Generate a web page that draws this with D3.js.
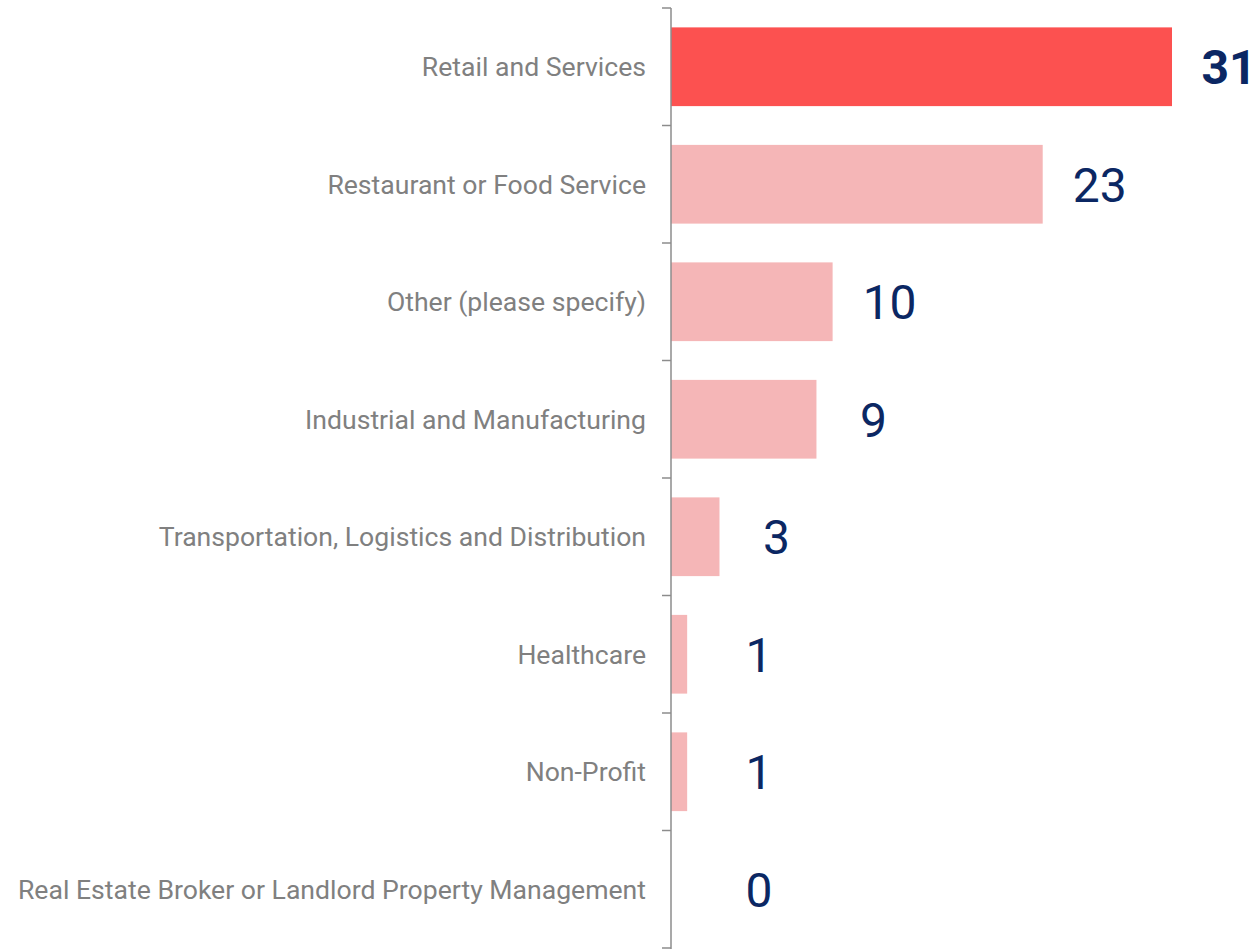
<!DOCTYPE html>
<html>
<head>
<meta charset="utf-8">
<script src="https://cdn.jsdelivr.net/npm/d3@7"></script>
<style>
  html, body { margin:0; padding:0; background:#fff; }
  svg { display:block; font-family: Roboto, "Noto Sans", sans-serif; }
  .cat { fill:#808080; font-size:26.6px; }
  .val { fill:#0b2763; font-size:48px; }
  .val.top { font-weight:700; }
  .axis-line, .tick-line { stroke:#8c8c8c; stroke-width:1.5; }
</style>
</head>
<body>
<div id="chart"></div>
<script>
/* ---- data ---- */
const CATEGORIES = [
  "Retail and Services",
  "Restaurant or Food Service",
  "Other (please specify)",
  "Industrial and Manufacturing",
  "Transportation, Logistics and Distribution",
  "Healthcare",
  "Non-Profit",
  "Real Estate Broker or Landlord Property Management"
];
const VALUES = [31, 23, 10, 9, 3, 1, 1, 0];
const HIGHLIGHT = "Retail and Services";

const W = 1258, H = 949;
const AXIS_X = 671, TOP = 8, BOTTOM = 948;

const rows = CATEGORIES.map((c, i) => ({ cat: c, v: VALUES[i] }));

const svg = d3.select("#chart").append("svg")
  .attr("width", W).attr("height", H);

const x = d3.scaleLinear().domain([0, 31]).range([AXIS_X, 1172]);
const y = d3.scaleBand().domain(CATEGORIES).range([TOP, BOTTOM])
  .paddingInner(0.33).paddingOuter(0.165);

// bars
svg.selectAll("rect.bar").data(rows).enter().append("rect")
  .attr("class", "bar")
  .attr("x", x(0))
  .attr("y", d => y(d.cat))
  .attr("width", d => x(d.v) - x(0))
  .attr("height", y.bandwidth())
  .attr("fill", d => d.cat === HIGHLIGHT ? "#fc5150" : "#f5b6b7");

// axis: vertical line + ticks on band boundaries
const step = y.step();
const bounds = d3.range(CATEGORIES.length + 1).map(i => TOP + i * step);
svg.append("line").attr("class", "axis-line")
  .attr("x1", AXIS_X).attr("x2", AXIS_X)
  .attr("y1", TOP).attr("y2", H);
svg.selectAll("line.tick-line").data(bounds).enter().append("line")
  .attr("class", "tick-line")
  .attr("x1", AXIS_X - 9).attr("x2", AXIS_X)
  .attr("y1", d => d).attr("y2", d => d);

// category labels
svg.selectAll("text.cat").data(rows).enter().append("text")
  .attr("class", "cat")
  .attr("x", AXIS_X - 25)
  .attr("y", d => y(d.cat) + y.bandwidth() / 2)
  .attr("dy", "0.35em")
  .attr("text-anchor", "end")
  .text(d => d.cat);

// value labels
svg.selectAll("text.val").data(rows).enter().append("text")
  .attr("class", d => d.cat === HIGHLIGHT ? "val top" : "val")
  .attr("x", d => Math.max(x(d.v) + 57, x(0) + 88))
  .attr("y", d => y(d.cat) + y.bandwidth() / 2)
  .attr("dy", "0.36em")
  .attr("text-anchor", "middle")
  .text(d => d.v);
</script>
</body>
</html>
